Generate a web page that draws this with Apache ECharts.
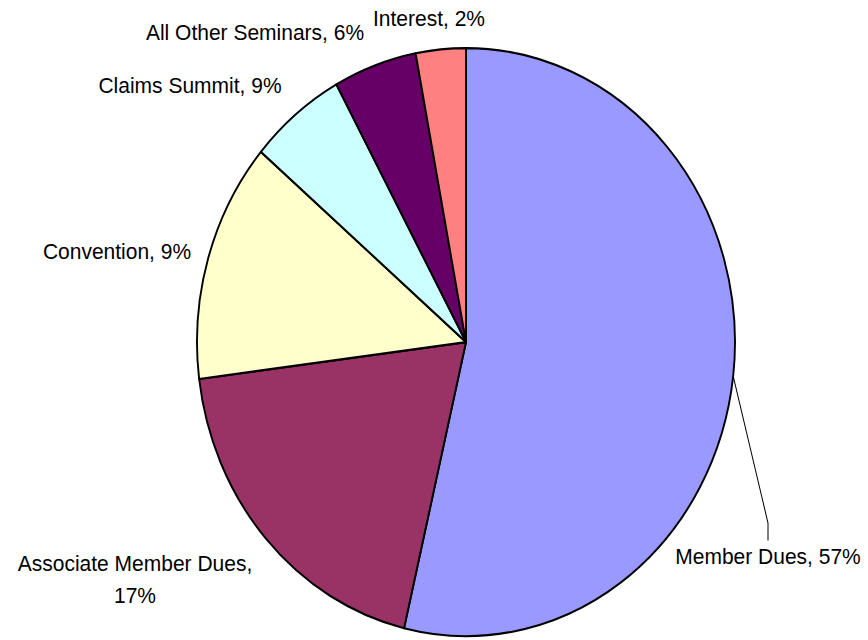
<!DOCTYPE html>
<html lang="en">
<head>
	<meta charset="UTF-8">
	<title>Revenue pie</title>
	<script src="https://cdn.jsdelivr.net/npm/echarts@6/dist/echarts.min.js"></script>
	<style>
		html, body { margin: 0; background: #fff; height: 640px; }
		#main { width: 868px; height: 640px; }
		/* the reference is stretched vertically, so draw flat and scale the drawing up */
		#main > div { transform: scaleY(1.093); transform-origin: 0 0; }
	</style>
</head>
<body>
	<div id="main"></div>
	<script>
		// slice sizes, printed percentages
		var names = ['Member Dues', 'Associate Member Dues', 'Convention', 'Claims Summit', 'All Other Seminars', 'Interest'];
		var values = [53.7, 19.3, 13.2, 5.8, 5.0, 3.0];
		var shownPct = [57, 17, 9, 9, 6, 2];
		var colors = ['#9999FF', '#993366', '#FFFFCC', '#CCFFFF', '#660066', '#FF8080'];

		// label centres (unscaled px)
		var labelPos = [[768, 509], [135, 530], [117, 230], [190, 78], [255, 29], [429, 17]];

		var data = names.map(function (n, i) {
			return {
				name: n,
				value: values[i],
				itemStyle: { color: colors[i] },
				labelLine: { show: i === 0 }
			};
		});

		var myChart = echarts.init(document.getElementById('main'), null, { renderer: 'svg', width: 868, height: 586 });
		var option = {
			animation: false,
			series: [{
				type: 'pie',
				center: [466, 313],
				radius: 269,
				startAngle: 90,
				clockwise: true,
				data: data,
				itemStyle: { borderColor: '#000', borderWidth: 1.9 },
				label: {
					show: true,
					position: 'outside',
					overflow: 'none',
					color: '#000',
					fontFamily: 'Liberation Sans, Arial, sans-serif',
					fontSize: 21,
					lineHeight: 29,
					align: 'center',
					formatter: function (p) {
						var i = p.dataIndex;
						return names[i] + ',' + (i === 1 ? '\n' : ' ') + shownPct[i] + '%';
					}
				},
				labelLine: {
					show: false,
					length: 10,
					length2: 16,
					smooth: false,
					lineStyle: { color: '#000', width: 1 }
				},
				labelLayout: function (params) {
					var p = labelPos[params.dataIndex];
					return { x: p[0], y: p[1], align: 'center', verticalAlign: 'middle' };
				}
			}]
		};
		myChart.setOption(option);
	</script>
</body>
</html>
